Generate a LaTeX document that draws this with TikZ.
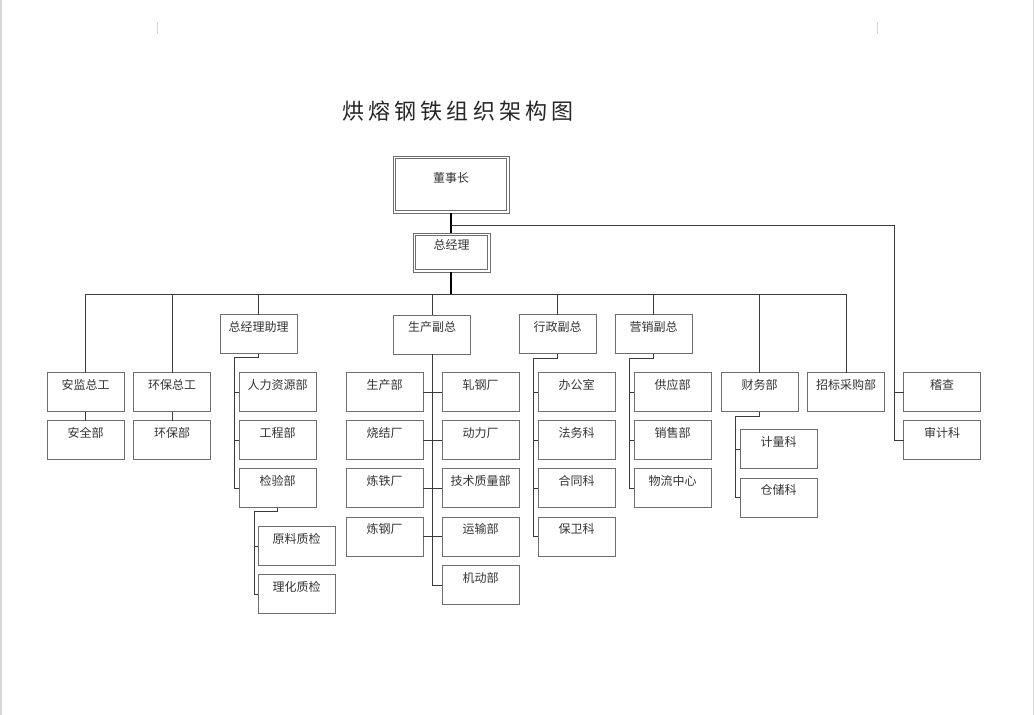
\documentclass[tikz,border=0pt]{standalone}
\usepackage{fontspec}
\usepackage{tikz}
\newfontfamily\cjkfont{Noto Sans CJK SC}
\newfontfamily\titlefont[LetterSpace=19]{Noto Sans CJK SC}
\definecolor{boxgray}{HTML}{6E6E6E}
\definecolor{linegray}{HTML}{3A3A3A}
\definecolor{pagegray}{HTML}{D6D6D6}
\definecolor{textgray}{HTML}{333333}
\tikzstyle{unit}=[draw=boxgray, line width=0.6pt, inner sep=3pt, outer sep=0,
                  minimum width=77pt, text height=13.5pt, text depth=19.5pt,
                  font=\cjkfont\fontsize{12}{14}\selectfont, text=textgray]
\tikzstyle{dunit}=[unit, line width=0.8pt]
\tikzstyle{frame}=[draw=boxgray, line width=0.8pt]
\tikzstyle{link}=[draw=linegray, line width=0.8pt]
\tikzstyle{mainlink}=[draw=black, line width=1.2pt]
\tikzstyle{orgchart}=[x=1pt, y=-1pt,
                      % page size
                      execute at begin picture={\useasboundingbox (0,0) rectangle (1034,715);}]

\begin{document}
\begin{tikzpicture}[orgchart]
    % page edges and margin marks
    \draw[pagegray, line width=1.5pt] (0.75,0) -- (0.75,715);
    \draw[pagegray, line width=1.5pt] (1033.25,0) -- (1033.25,715);
    \draw[pagegray, line width=0.8pt] (157,22) -- (157,34);
    \draw[pagegray, line width=0.8pt] (877,22) -- (877,34);

    \node[font=\titlefont\fontsize{22}{25}\selectfont, text=black!85] (title) at (458,111) {烘熔钢铁组织架构图};

    % top
    \node[dunit, minimum width=116pt, text height=23.6pt, text depth=27.4pt] (C) at (451,184.5) {董事长};
    \draw[frame] ([shift={(2.6,2.6)}]C.north west) rectangle ([shift={(-2.6,-2.6)}]C.south east);
    \node[dunit] (GM) at (451.5,252.5) {总经理};
    \draw[frame] ([shift={(2.6,2.6)}]GM.north west) rectangle ([shift={(-2.6,-2.6)}]GM.south east);

    % deputies
    \node[unit] (ZL) at (258.5,334) {总经理助理};
    \node[unit] (SC) at (432,334.5) {生产副总};
    \node[unit] (XZ) at (557.5,334) {行政副总};
    \node[unit] (YX) at (653.5,334) {营销副总};

    % departments
    \node[unit] (AJ)  at (85.5,392)  {安监总工};
    \node[unit] (AQ)  at (85.5,440)  {安全部};
    \node[unit] (HB)  at (172,392)   {环保总工};
    \node[unit] (HBB) at (172,440)   {环保部};
    \node[unit] (RL)  at (277.5,392) {人力资源部};
    \node[unit] (GC)  at (277.5,440) {工程部};
    \node[unit] (JY)  at (277.5,488) {检验部};
    \node[unit] (YL)  at (296.5,546) {原料质检};
    \node[unit] (LH)  at (296.5,594) {理化质检};
    \node[unit] (SCB) at (384.5,392) {生产部};
    \node[unit] (SJ)  at (384.5,440) {烧结厂};
    \node[unit] (LT)  at (384.5,488) {炼铁厂};
    \node[unit] (LG)  at (384.5,536.5) {炼钢厂};
    \node[unit] (ZG)  at (480.5,392) {轧钢厂};
    \node[unit] (DL)  at (480.5,440) {动力厂};
    \node[unit] (JS)  at (480.5,488) {技术质量部};
    \node[unit] (YS)  at (480.5,536.5) {运输部};
    \node[unit] (JD)  at (480.5,585) {机动部};
    \node[unit] (BG)  at (576.5,392) {办公室};
    \node[unit] (FW)  at (576.5,440) {法务科};
    \node[unit] (HT)  at (576.5,488) {合同科};
    \node[unit] (BW)  at (576.5,536.5) {保卫科};
    \node[unit] (GY)  at (672.5,392) {供应部};
    \node[unit] (XS)  at (672.5,440) {销售部};
    \node[unit] (WL)  at (672.5,488) {物流中心};
    \node[unit] (CW)  at (759.5,392) {财务部};
    \node[unit] (JL)  at (778.5,449) {计量科};
    \node[unit] (CC)  at (778.5,497.5) {仓储科};
    \node[unit] (ZB)  at (846,392)   {招标采购部};
    \node[unit] (JC)  at (942,392)   {稽查};
    \node[unit] (SJK) at (942,440)   {审计科};

    % bus lines
    \coordinate (busL) at (85.5,294);
    \coordinate (busR) at (846,294);
    \coordinate (aud)  at (894,225);
    \coordinate (zlb)  at (234,357);
    \coordinate (jyb)  at (254,511);
    \coordinate (xzb)  at (533,358);
    \coordinate (yxb)  at (629,358);
    \coordinate (cwb)  at (735,416);

    \draw[mainlink] (C.south) -- (C.south |- GM.north);
    \draw[link] (C.south |- aud) -- (aud) |- (SJK.west);
    \draw[link] (aud |- JC.west) -- (JC.west);
    \draw[mainlink] (C.south |- GM.south) -- (C.south |- busL);
    \draw[link] (busL) -- (busR);
    \draw[link] (busL) -- (AJ.north);
    \draw[link] (HB.north |- busL) -- (HB.north);
    \draw[link] (ZL.north |- busL) -- (ZL.north);
    \draw[link] (SC.north |- busL) -- (SC.north);
    \draw[link] (XZ.north |- busL) -- (XZ.north);
    \draw[link] (YX.north |- busL) -- (YX.north);
    \draw[link] (CW.north |- busL) -- (CW.north);
    \draw[link] (busR) -- (ZB.north);
    \draw[link] (AJ.south) -- (AQ.north);
    \draw[link] (HB.south) -- (HBB.north);

    \draw[link] (ZL.south) |- (zlb) |- (JY.west);
    \draw[link] (zlb |- RL.west) -- (RL.west);
    \draw[link] (zlb |- GC.west) -- (GC.west);
    \draw[link] (JY.south) |- (jyb) |- (LH.west);
    \draw[link] (jyb |- YL.west) -- (YL.west);

    \draw[link] (SC.south) |- (JD.west);
    \draw[link] (SCB.east) -- (ZG.west);
    \draw[link] (SJ.east) -- (DL.west);
    \draw[link] (LT.east) -- (JS.west);
    \draw[link] (LG.east) -- (YS.west);

    \draw[link] (XZ.south) |- (xzb) |- (BW.west);
    \draw[link] (xzb |- BG.west) -- (BG.west);
    \draw[link] (xzb |- FW.west) -- (FW.west);
    \draw[link] (xzb |- HT.west) -- (HT.west);

    \draw[link] (YX.south) |- (yxb) |- (WL.west);
    \draw[link] (yxb |- GY.west) -- (GY.west);
    \draw[link] (yxb |- XS.west) -- (XS.west);

    \draw[link] (CW.south) |- (cwb) |- (CC.west);
    \draw[link] (cwb |- JL.west) -- (JL.west);
\end{tikzpicture}
\end{document}
